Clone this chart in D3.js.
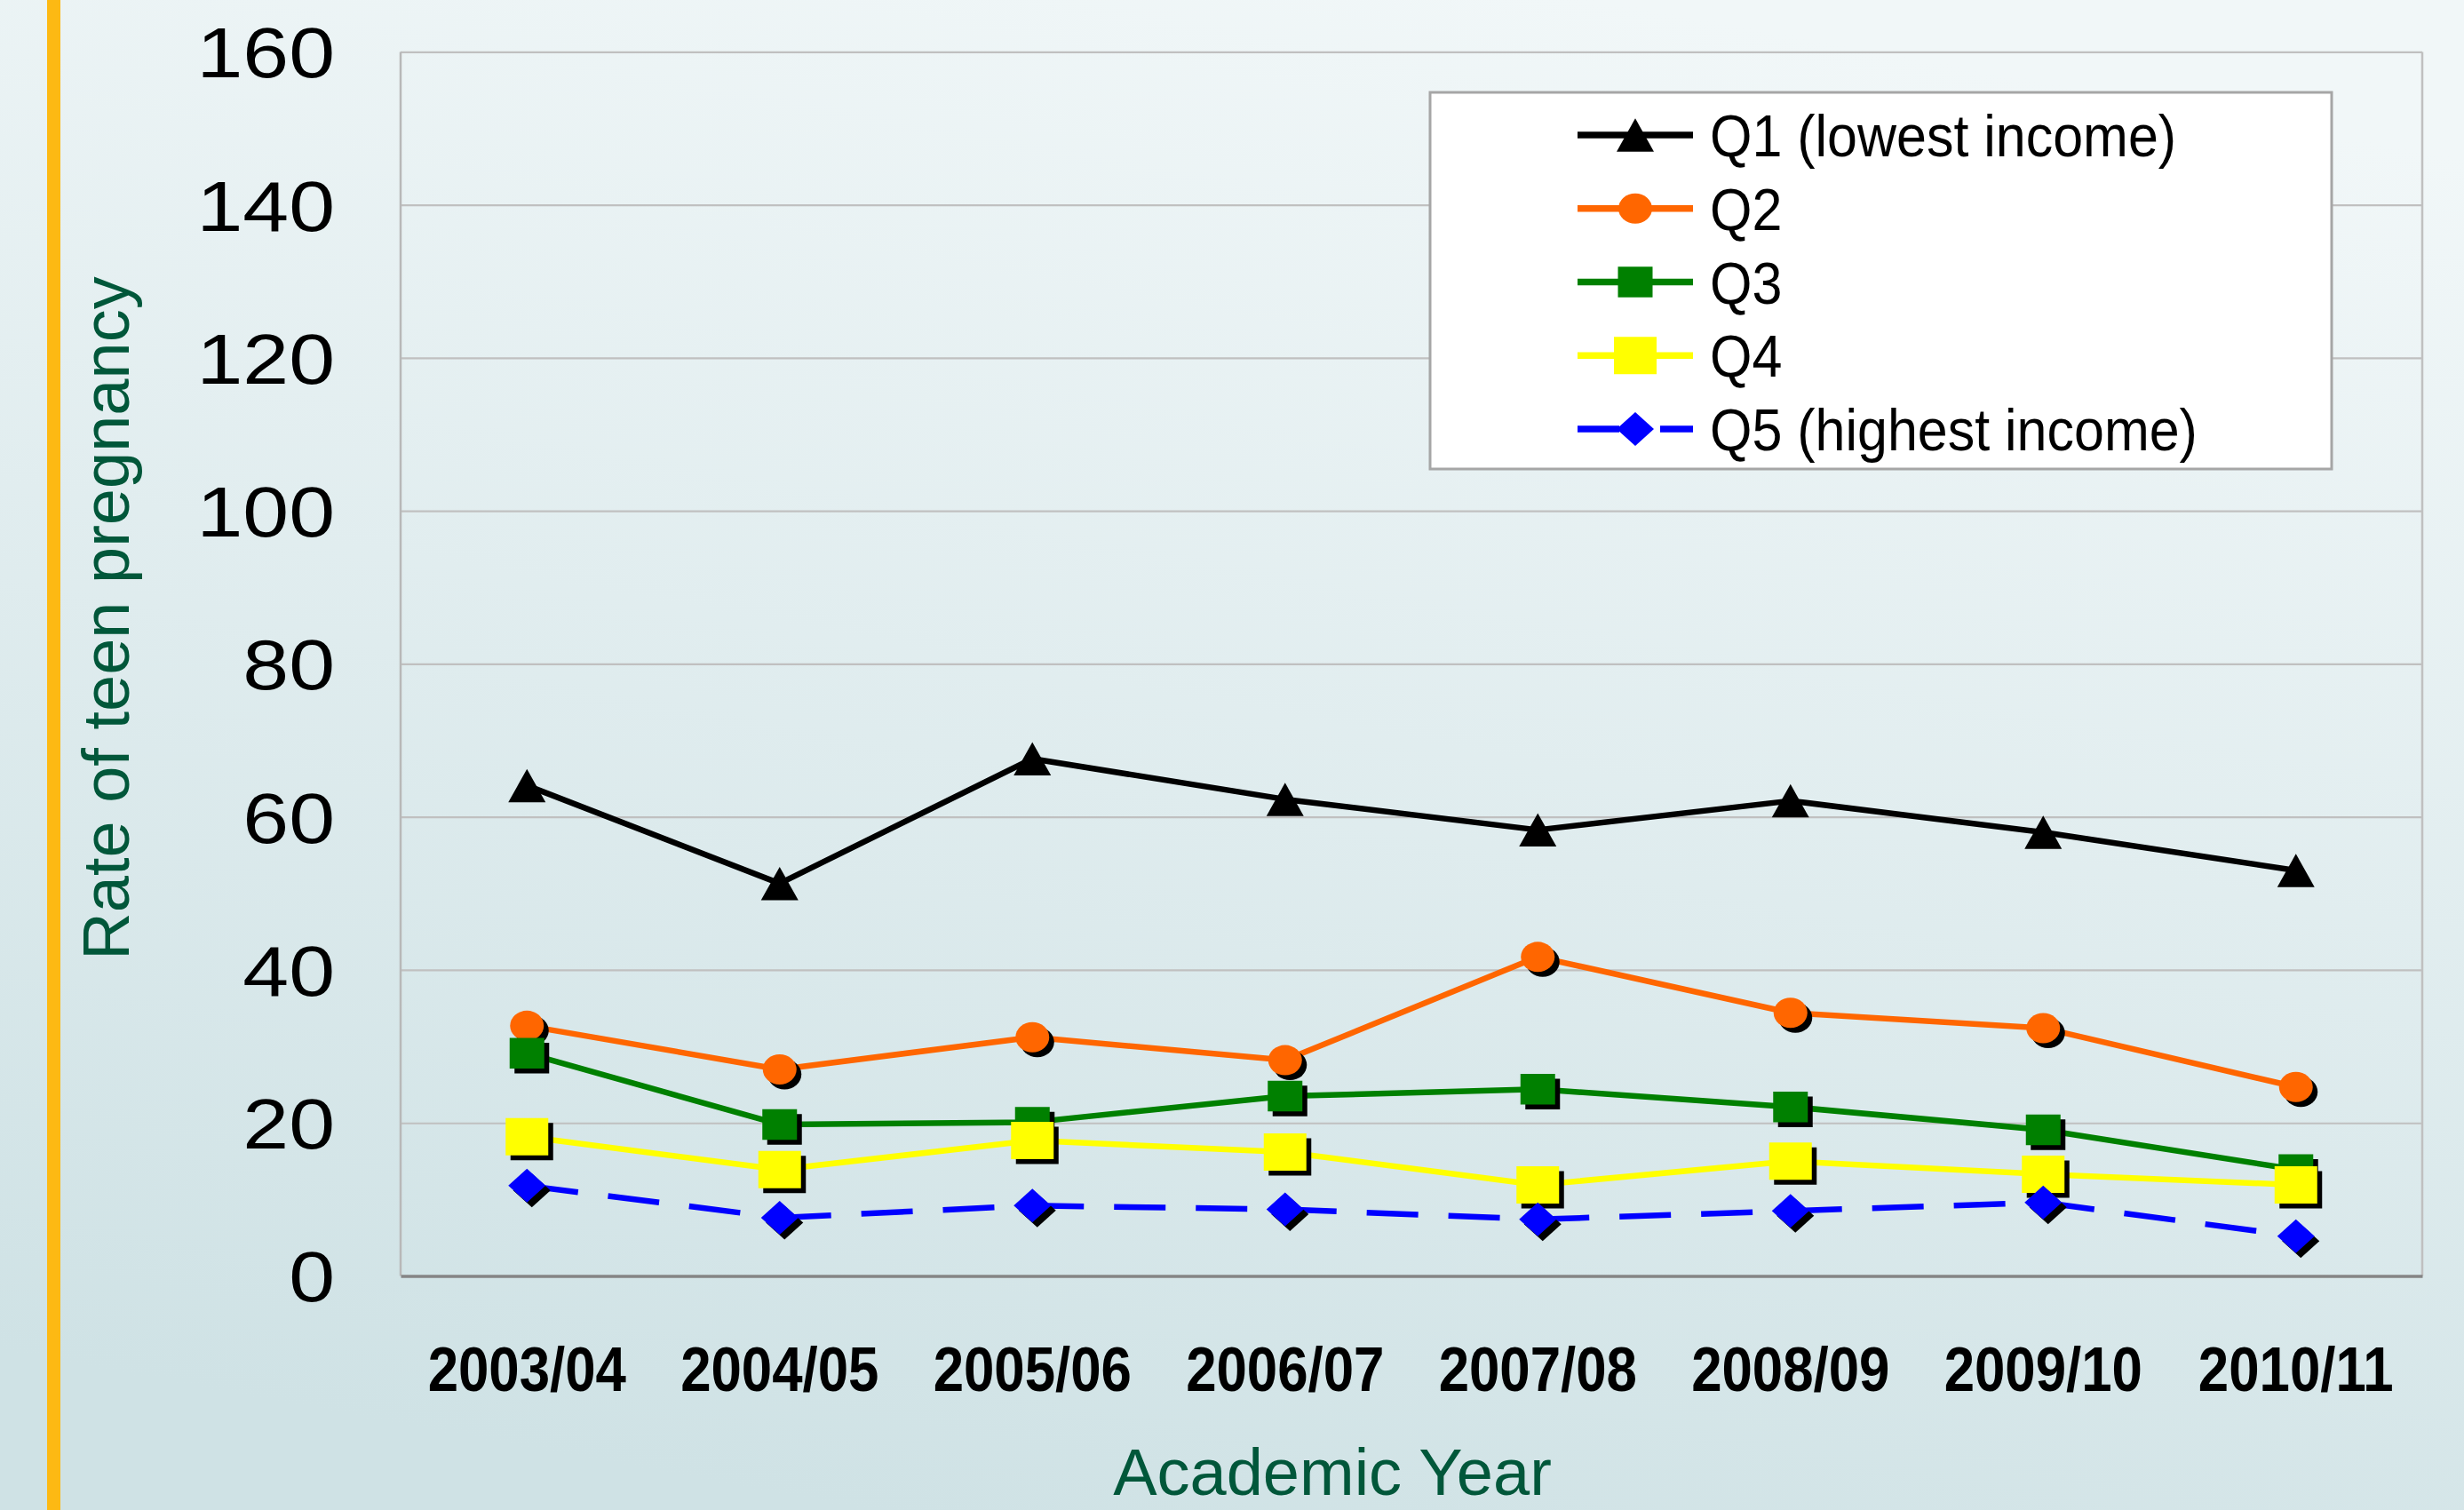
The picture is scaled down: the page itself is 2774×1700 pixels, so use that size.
<!DOCTYPE html>
<html>
<head>
<meta charset="utf-8">
<script src="https://cdn.jsdelivr.net/npm/d3@7"></script>
<style>
  html, body { margin: 0; padding: 0; background: #e4eff1; }
  svg { display: block; }
</style>
</head>
<body>
<script>
// ---------------- DATA ----------------
const categories = ["2003/04", "2004/05", "2005/06", "2006/07", "2007/08", "2008/09", "2009/10", "2010/11"];
const q1 = [64.1, 51.3, 67.6, 62.3, 58.3, 62.1, 58.0, 53.0];
const q2 = [32.7, 27.0, 31.2, 28.2, 41.7, 34.4, 32.4, 24.7];
const q3 = [29.1, 19.8, 20.1, 23.5, 24.4, 22.1, 19.1, 13.9];
const q4 = [18.2, 13.9, 17.7, 16.2, 11.9, 15.0, 13.3, 11.9];
const q5 = [11.8, 7.6, 9.2, 8.7, 7.4, 8.5, 9.6, 5.2];
const seriesNames = ["Q1 (lowest income)", "Q2", "Q3", "Q4", "Q5 (highest income)"];
const yTicks = [0, 20, 40, 60, 80, 100, 120, 140, 160];
const xTitle = "Academic Year";
const yTitle = "Rate of teen pregnancy";

// ---------------- STYLE ----------------
const W = 2774, H = 1700;
const plot = { left: 451, right: 2727, top: 58.4, bottom: 1436.5 };
const styles = [
  { color: "#000000", marker: "triangle", mw: 42, mh: 37.5, dash: null, shadow: false },
  { color: "#FF6600", marker: "circle",   mw: 38, mh: 34,   dash: null, shadow: true },
  { color: "#008000", marker: "square",   mw: 39, mh: 34.5, dash: null, shadow: true },
  { color: "#FFFF00", marker: "square",   mw: 48, mh: 42,   dash: null, shadow: true },
  { color: "#0000FF", marker: "diamond",  mw: 42, mh: 38,   dash: "58,34", shadow: true }
];
const seriesValues = [q1, q2, q3, q4, q5];

function markerPath(type, w, h) {
  const a = w / 2, b = h / 2;
  if (type === "triangle") return `M0,${-b}L${a},${b}L${-a},${b}Z`;
  if (type === "square") return `M${-a},${-b}H${a}V${b}H${-a}Z`;
  if (type === "diamond") return `M0,${-b}L${a},0L0,${b}L${-a},0Z`;
  return `M${-a},0A${a},${b} 0 1,0 ${a},0A${a},${b} 0 1,0 ${-a},0Z`;
}

const svg = d3.select("body").append("svg").attr("width", W).attr("height", H);
const defs = svg.append("defs");
const grad = defs.append("linearGradient").attr("id", "bg")
  .attr("x1", 0.65).attr("y1", 0).attr("x2", 0.35).attr("y2", 1);
grad.append("stop").attr("offset", 0).attr("stop-color", "#f1f7f8");
grad.append("stop").attr("offset", 1).attr("stop-color", "#cfe2e5");

svg.append("rect").attr("width", W).attr("height", H).attr("fill", "url(#bg)");
svg.append("rect").attr("x", 53).attr("y", 0).attr("width", 15).attr("height", H).attr("fill", "#FDB913");

// ---------------- SCALES ----------------
const x = d3.scaleBand().domain(categories).range([plot.left, plot.right]);
const cx = c => x(c) + x.bandwidth() / 2;
const y = d3.scaleLinear().domain([0, 160]).range([plot.bottom, plot.top]);

// Gridlines
const grid = svg.append("g").attr("transform", `translate(${plot.left},0)`)
  .call(d3.axisLeft(y).tickValues(yTicks.filter(t => t > 0)).tickSize(-(plot.right - plot.left)).tickFormat(""));
grid.select(".domain").remove();
grid.selectAll("line").attr("stroke", "#c0c0c0").attr("stroke-width", 2.2);

// Plot frame (left/right)
svg.append("line").attr("x1", plot.left).attr("x2", plot.left).attr("y1", plot.top).attr("y2", plot.bottom)
  .attr("stroke", "#b8b8b8").attr("stroke-width", 2.5);
svg.append("line").attr("x1", plot.right).attr("x2", plot.right).attr("y1", plot.top).attr("y2", plot.bottom)
  .attr("stroke", "#c0c0c0").attr("stroke-width", 2.5);

// Y axis labels
const yAxis = svg.append("g").attr("transform", `translate(${plot.left},0)`)
  .call(d3.axisLeft(y).tickValues(yTicks).tickSize(0).tickFormat(d3.format("d")));
yAxis.select(".domain").remove();
const ySx = 1.18;
yAxis.selectAll("text")
  .attr("font-family", "'Liberation Sans', Arial, sans-serif")
  .attr("font-size", 79).attr("fill", "#000").attr("text-anchor", "end")
  .attr("x", -74 / ySx).attr("dy", "0.36em")
  .attr("transform", `scale(${ySx},1)`);

// X axis
const xAxis = svg.append("g").attr("transform", `translate(0,${plot.bottom})`)
  .call(d3.axisBottom(x).tickSize(0));
xAxis.select(".domain").attr("stroke", "#858585").attr("stroke-width", 3.5);
const xSx = 0.87;
xAxis.selectAll("text")
  .attr("font-family", "'Liberation Sans', Arial, sans-serif")
  .attr("font-weight", "bold").attr("font-size", 71).attr("fill", "#000")
  .attr("text-anchor", "middle").attr("y", 1566 - plot.bottom).attr("dy", 0)
  .attr("transform", `scale(${xSx},1)`);

// Axis titles
svg.append("text").attr("x", 1500).attr("y", 1683)
  .attr("font-family", "'Liberation Sans', Arial, sans-serif").attr("font-size", 74)
  .attr("fill", "#01573a").attr("text-anchor", "middle").text(xTitle);
svg.append("text").attr("transform", "translate(145,696) rotate(-90)")
  .attr("font-family", "'Liberation Sans', Arial, sans-serif").attr("font-size", 74)
  .attr("fill", "#01573a").attr("text-anchor", "middle").text(yTitle);

// ---------------- SERIES ----------------
const seriesG = svg.append("g");
seriesValues.forEach((vals, si) => {
  const st = styles[si];
  const pts = categories.map((c, i) => [cx(c), y(vals[i])]);
  const g = seriesG.append("g");
  if (st.dash) {
    d3.pairs(pts).forEach(([p0, p1]) => {
      g.append("path").attr("d", d3.line()([p0, p1]))
        .attr("fill", "none").attr("stroke", st.color).attr("stroke-width", 6.5)
        .attr("stroke-dasharray", st.dash);
    });
  } else {
    g.append("path").attr("d", d3.line()(pts))
      .attr("fill", "none").attr("stroke", st.color).attr("stroke-width", 6.5)
      .attr("stroke-linejoin", "round");
  }
  const mp = markerPath(st.marker, st.mw, st.mh);
  if (st.shadow) {
    g.selectAll(".sh").data(pts).join("path")
      .attr("d", mp).attr("transform", d => `translate(${d[0] + 5.5},${d[1] + 5.5})`)
      .attr("fill", "#000");
  }
  g.selectAll(".mk").data(pts).join("path")
    .attr("d", mp).attr("transform", d => `translate(${d[0]},${d[1]})`)
    .attr("fill", st.color);
});

// ---------------- LEGEND ----------------
const leg = svg.append("g");
leg.append("rect").attr("x", 1610).attr("y", 104).attr("width", 1015).attr("height", 424)
  .attr("fill", "#ffffff").attr("stroke", "#a6a6a6").attr("stroke-width", 3);
const rowY = d3.scaleLinear().domain([0, 4]).range([152, 483]);
const legSx = 0.91;
seriesNames.forEach((name, i) => {
  const st = styles[i];
  const yy = rowY(i);
  leg.append("line").attr("x1", 1776).attr("x2", 1906).attr("y1", yy).attr("y2", yy)
    .attr("stroke", st.color).attr("stroke-width", 7.5)
    .attr("stroke-dasharray", st.dash ? "47,46" : null);
  leg.append("path").attr("d", markerPath(st.marker, st.mw, st.mh))
    .attr("transform", `translate(1841,${yy})`).attr("fill", st.color);
  leg.append("text").attr("transform", `translate(1925,${yy}) scale(${legSx},1)`)
    .attr("dy", "0.36em")
    .attr("font-family", "'Liberation Sans', Arial, sans-serif").attr("font-size", 67)
    .attr("fill", "#000").text(name);
});
</script>
</body>
</html>
